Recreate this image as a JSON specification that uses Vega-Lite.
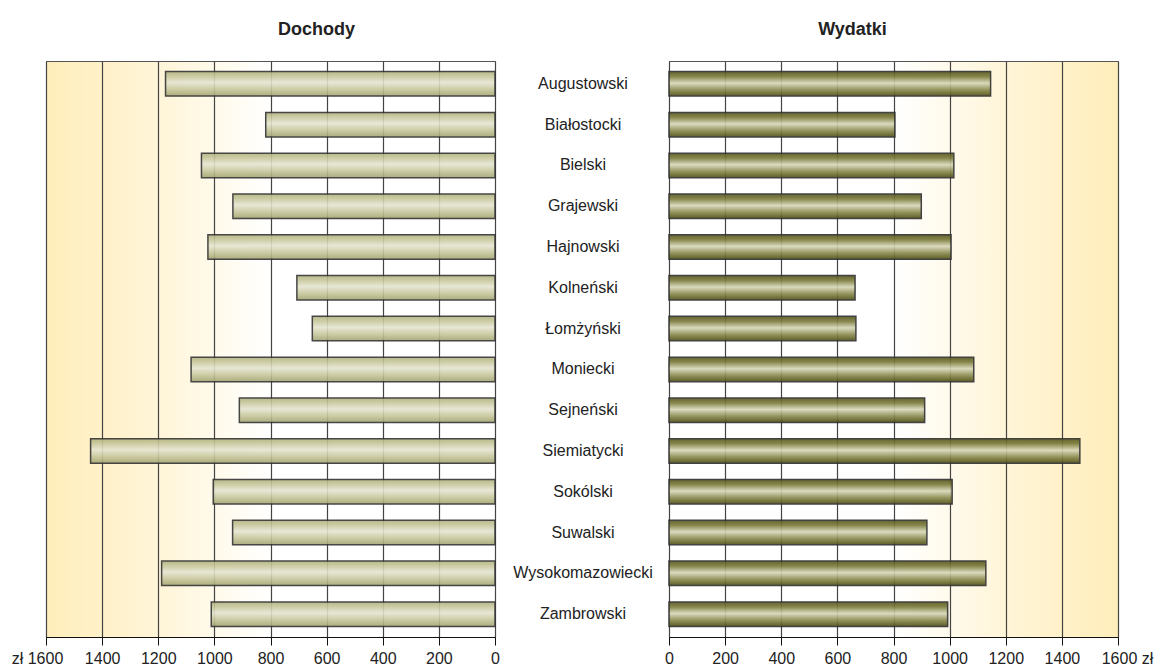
{
  "$schema": "https://vega.github.io/schema/vega-lite/v6.json",
  "padding": {"left": 10, "top": 20, "right": 4, "bottom": 2},
  "background": "white",
  "config": {
    "font": "Liberation Sans",
    "axis": {
      "labelFont": "Liberation Sans",
      "labelFontSize": 16,
      "labelColor": "#222",
      "labelOverlap": false,
      "labelFlush": false,
      "domainColor": "#111",
      "tickColor": "#111",
      "tickSize": 8,
      "gridColor": "#444",
      "gridWidth": 1.2
    }
  },
  "data": {
    "values": [
      {"powiat": "Augustowski", "dochody": 1174, "wydatki": 1146},
      {"powiat": "Białostocki", "dochody": 817, "wydatki": 805},
      {"powiat": "Bielski", "dochody": 1046, "wydatki": 1015},
      {"powiat": "Grajewski", "dochody": 934, "wydatki": 899},
      {"powiat": "Hajnowski", "dochody": 1023, "wydatki": 1005},
      {"powiat": "Kolneński", "dochody": 706, "wydatki": 663},
      {"powiat": "Łomżyński", "dochody": 651, "wydatki": 666},
      {"powiat": "Moniecki", "dochody": 1083, "wydatki": 1086},
      {"powiat": "Sejneński", "dochody": 911, "wydatki": 911},
      {"powiat": "Siemiatycki", "dochody": 1441, "wydatki": 1464},
      {"powiat": "Sokólski", "dochody": 1004, "wydatki": 1009},
      {"powiat": "Suwalski", "dochody": 935, "wydatki": 919},
      {"powiat": "Wysokomazowiecki", "dochody": 1188, "wydatki": 1129},
      {"powiat": "Zambrowski", "dochody": 1011, "wydatki": 993}
    ]
  },
  "spacing": 174,
  "bounds": "flush",
  "hconcat": [
    {
      "width": 449,
      "height": 576,
      "title": {"text": "Dochody", "font": "Liberation Sans", "fontSize": 18, "fontWeight": "bold", "color": "#222", "anchor": "middle", "dx": 46, "offset": 22},
      "view": {
        "stroke": "#555",
        "strokeWidth": 1,
        "fill": {
          "gradient": "linear", "x1": 0, "y1": 0, "x2": 1, "y2": 0,
          "stops": [
            {"offset": 0, "color": "#FFEEBB"},
            {"offset": 0.125, "color": "#FFF1C9"},
            {"offset": 0.25, "color": "#FFF5D8"},
            {"offset": 0.375, "color": "#FFFAEB"},
            {"offset": 0.5, "color": "#FFFFFF"},
            {"offset": 1, "color": "#FFFFFF"}
          ]
        }
      },
      "mark": {
        "type": "bar",
        "stroke": "#333",
        "strokeWidth": 1.5,
        "opacity": 0.9,
        "fill": {
          "gradient": "linear", "x1": 0, "y1": 0, "x2": 0, "y2": 1,
          "stops": [
            {"offset": 0, "color": "#B2B280"},
            {"offset": 0.18, "color": "#C6C69A"},
            {"offset": 0.45, "color": "#E5E5D2"},
            {"offset": 0.72, "color": "#C8C89E"},
            {"offset": 1, "color": "#A4A472"}
          ]
        }
      },
      "encoding": {
        "y": {"field": "powiat", "type": "nominal", "sort": null, "axis": null,
              "scale": {"paddingInner": 0.4, "paddingOuter": 0.26}},
        "x": {"field": "dochody", "type": "quantitative",
              "scale": {"domain": [0, 1600], "reverse": true, "nice": false},
              "axis": {
                "title": null,
                "values": [0, 200, 400, 600, 800, 1000, 1200, 1400, 1600],
                "format": "d",
                "labelPadding": 5,
                "labelExpr": "datum.value == 1600 ? 'zł 1600' : datum.label",
                "labelOffset": {"condition": {"test": "datum.value == 1600", "value": -9}, "value": 0}
              }}
      }
    },
    {
      "width": 449,
      "height": 576,
      "title": {"text": "Wydatki", "font": "Liberation Sans", "fontSize": 18, "fontWeight": "bold", "color": "#222", "anchor": "middle", "dx": -41, "offset": 22},
      "view": {
        "stroke": "#555",
        "strokeWidth": 1,
        "fill": {
          "gradient": "linear", "x1": 0, "y1": 0, "x2": 1, "y2": 0,
          "stops": [
            {"offset": 0, "color": "#FFFFFF"},
            {"offset": 0.5, "color": "#FFFFFF"},
            {"offset": 0.625, "color": "#FFFAEB"},
            {"offset": 0.75, "color": "#FFF5D8"},
            {"offset": 0.875, "color": "#FFF1C9"},
            {"offset": 1, "color": "#FFEEBB"}
          ]
        }
      },
      "mark": {
        "type": "bar",
        "stroke": "#333",
        "strokeWidth": 1.5,
        "opacity": 0.92,
        "fill": {
          "gradient": "linear", "x1": 0, "y1": 0, "x2": 0, "y2": 1,
          "stops": [
            {"offset": 0, "color": "#58581E"},
            {"offset": 0.2, "color": "#7C7C3E"},
            {"offset": 0.47, "color": "#D8D8BA"},
            {"offset": 0.75, "color": "#8A8A50"},
            {"offset": 1, "color": "#505016"}
          ]
        }
      },
      "encoding": {
        "y": {"field": "powiat", "type": "nominal", "sort": null,
              "scale": {"paddingInner": 0.4, "paddingOuter": 0.26},
              "axis": {"title": null, "orient": "left", "domain": false, "ticks": false, "tickSize": 0, "grid": false,
                       "labelAlign": "center", "labelPadding": 86.5, "labelFontSize": 16, "labelColor": "#222", "labelLimit": 300}},
        "x": {"field": "wydatki", "type": "quantitative",
              "scale": {"domain": [0, 1600], "nice": false},
              "axis": {
                "title": null,
                "values": [0, 200, 400, 600, 800, 1000, 1200, 1400, 1600],
                "format": "d",
                "labelPadding": 5,
                "labelExpr": "datum.value == 1600 ? '1600 zł' : datum.label",
                "labelOffset": {"condition": {"test": "datum.value == 1600", "value": 9}, "value": 0}
              }}
      }
    }
  ]
}
